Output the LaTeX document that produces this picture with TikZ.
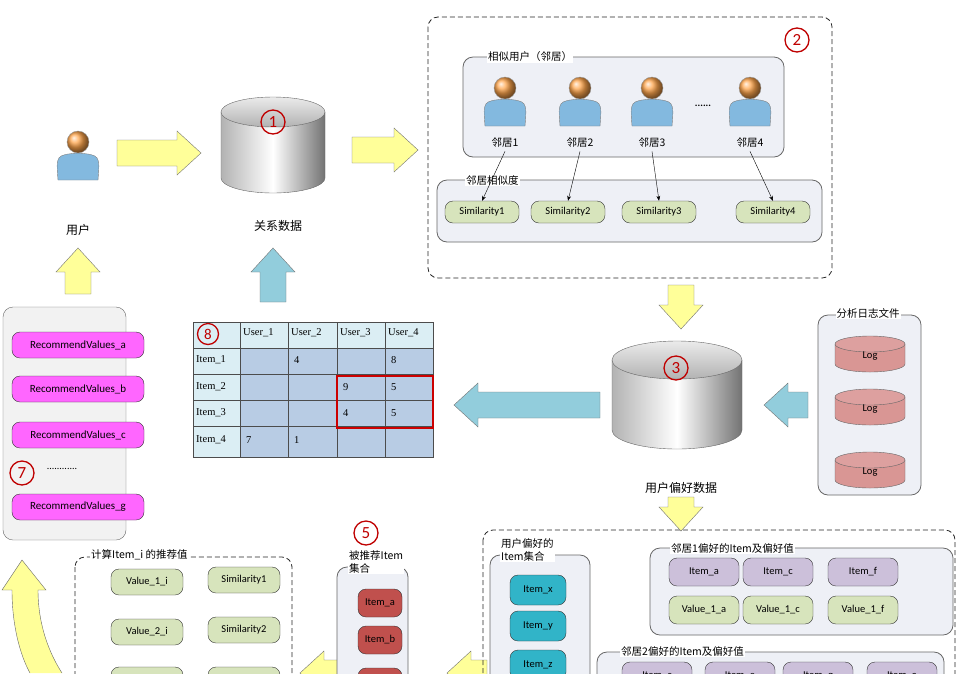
\documentclass[tikz,border=0pt]{standalone}
\usepackage{fontspec}
\setmainfont{Carlito}
\newfontfamily\cjk{Noto Sans CJK SC}
\newfontfamily\tms{Liberation Serif}
\usetikzlibrary{shapes.geometric,arrows.meta}
\definecolor{yel}{HTML}{FFFF99}
\definecolor{blu}{HTML}{92CDDC}
\definecolor{grn}{HTML}{D7E4BC}
\definecolor{pur}{HTML}{CCC0DA}
\definecolor{mag}{HTML}{FF66FF}
\definecolor{redp}{HTML}{C0504D}
\definecolor{logc}{HTML}{D99694}
\definecolor{teal}{HTML}{31B4C8}
\definecolor{cellb}{HTML}{B8CCE4}
\definecolor{cellh}{HTML}{DBEEF4}
\definecolor{panel}{HTML}{EEF0F6}
\tikzset{
 pill/.style={draw=black!80,rounded corners=8,minimum height=22,inner sep=2,font=\fontsize{10.5}{12}\selectfont},
 gp/.style={pill,fill=grn,minimum width=74},
 pp/.style={pill,fill=pur,minimum width=70},
 panelbox/.style={draw=black!60,thick,rounded corners=10,fill=panel},
 dbox/.style={draw=black!85,line width=0.8,dash pattern=on 5pt off 3pt,rounded corners=10},
 ttl/.style={fill=white,inner sep=1,font=\cjk\fontsize{10.5}{13}\selectfont},
 blkarrow/.style={draw=black!55},
 num/.style={circle,draw=red!75!black,text=red!75!black,inner sep=0.5,minimum size=24,line width=1.3,font=\fontsize{17}{17}\selectfont},
 cn/.style={font=\cjk\fontsize{10.5}{13}\selectfont}
}
% block arrow: #1 colour, #2 tail x, #3 tail y, #4 length, #5 angle (0 right, 90 up, -90 down)
\newcommand\blk[5]{\begin{scope}[shift={(#2,#3)},rotate=#5]
 \draw[blkarrow,fill=#1] (0,-13) -- (#4-24,-13) -- (#4-24,-22) -- (#4,0) -- (#4-24,22) -- (#4-24,13) -- (0,13) -- cycle;
 \end{scope}}
% grey cylinder: #1 cx, #2 top y, #3 half width, #4 ry, #5 body height
\newcommand\cyl[5]{%
 \shade[left color=black!30,right color=black!55,middle color=white,draw=black!60]
   (#1-#3,#2) -- (#1-#3,#2+#5) arc[start angle=180,end angle=0,x radius=#3,y radius=#4] -- (#1+#3,#2) -- cycle;
 \shade[top color=black!8,bottom color=black!30,draw=black!60] (#1,#2) ellipse[x radius=#3,y radius=#4];}
\newcommand\logcyl[2]{%
 \draw[fill=logc,draw=black!60] (#1-35,#2) -- (#1-35,#2+20) arc[start angle=180,end angle=0,x radius=35,y radius=8] -- (#1+35,#2) -- cycle;
 \draw[fill=logc!90!white,draw=black!60] (#1,#2) ellipse[x radius=35,y radius=8];}
\newcommand\person[2]{%
 \fill[blu!90!blue,draw=black!50] (#1-20,#2+30) .. controls (#1-22,#2+5) .. (#1,#2+3) .. controls (#1+22,#2+5) .. (#1+20,#2+30) -- cycle;
 \shade[ball color=orange!70,draw=black!40] (#1,#2-8) circle (11);}
\begin{document}
\begin{tikzpicture}[x=1pt,y=-1pt]
\useasboundingbox (0,0) rectangle (957,673);
\clip (0,0) rectangle (957,673);
% user
\person{78}{150}
\node[cn,font=\cjk\fontsize{12}{14}\selectfont] (user) at (78,230) {用户};
\blk{yel}{117}{153}{84}{0}
% db1
\cyl{273}{112}{52}{15}{66}
\node[num] (n1) at (273,122) {1};
\node[cn,font=\cjk\fontsize{12}{14}\selectfont] (rel) at (278,226) {关系数据};
\blk{yel}{352}{150}{66}{0}
% box 2
\draw[dbox] (428,17) rectangle (832,278);
\node[num] (n2) at (797,40) {2};
\draw[panelbox] (463,57) rectangle (784,157);
\node[ttl,anchor=west] (t1) at (487,57) {相似用户（邻居）};
\foreach \x/\i in {505/1,580/2,652/3,750/4}{
 \person{\x}{96}
 \node[cn] (nb\i) at (\x,143) {邻居\i};}
\node (dots) at (703,106) {\textbf{......}};
\draw[panelbox] (437,180) rectangle (822,242);
\node[ttl,anchor=west] (t2) at (465,180) {邻居相似度};
\node[gp] (s1) at (482,212) {Similarity1};
\node[gp] (s2) at (568,212) {Similarity2};
\node[gp] (s3) at (659,212) {Similarity3};
\node[gp] (s4) at (773,212) {Similarity4};
\foreach \i in {1,2,3,4}{\draw[-{Stealth[length=5]},thin] (nb\i.south) -- (s\i.north);}
% down arrow
\blk{yel}{681}{285}{44}{-90}
% db3
\cyl{677}{360}{65}{19}{70}
\node[num] (n3) at (676,368) {3};
\node[cn,font=\cjk\fontsize{12}{14}\selectfont] (pref) at (681,488) {用户偏好数据};
% log box
\draw[panelbox] (818,315) rectangle (921,495);
\node[ttl] (t3) at (868,313) {分析日志文件};
\logcyl{870}{344}
\logcyl{870}{397}
\logcyl{870}{460}
\node[font=\fontsize{10.5}{12}\selectfont] (l1) at (870,356) {Log};
\node[font=\fontsize{10.5}{12}\selectfont] (l2) at (870,409) {Log};
\node[font=\fontsize{10.5}{12}\selectfont] (l3) at (870,472) {Log};
\blk{blu}{808}{405}{44}{180}
\blk{blu}{600}{405}{146}{180}
% table
\fill[cellb] (193,322) rectangle (433,457);
\fill[cellh] (193,322) rectangle (433,348);
\fill[cellh] (193,322) rectangle (240,457);
\draw[black!70] (193,322) rectangle (433,457);
\foreach \x in {240,288,337,385} \draw[black!70] (\x,322) -- (\x,457);
\foreach \y in {348,374,400,426} \draw[black!70] (193,\y) -- (433,\y);
\draw[red!80!black,line width=1.2] (337,376) rectangle (433,428);
\begin{scope}[every node/.style={anchor=west,font=\tms\fontsize{10.5}{12}\selectfont,inner sep=0}]
\node (h1) at (243,333) {User\_1};\node (h2) at (291,333) {User\_2};
\node (h3) at (340,333) {User\_3};\node (h4) at (388,333) {User\_4};
\node (r1) at (196,360) {Item\_1};\node (r2) at (196,387) {Item\_2};
\node (r3) at (196,413) {Item\_3};\node (r4) at (196,440) {Item\_4};
\node (c12) at (294,360) {4};\node (c14) at (391,360) {8};
\node (c23) at (343,387) {9};\node (c24) at (391,387) {5};
\node (c33) at (343,413) {4};\node (c34) at (391,413) {5};
\node (c41) at (246,440) {7};\node (c42) at (294,440) {1};
\end{scope}
\node[num,minimum size=21,font=\fontsize{15}{15}\selectfont] (n8) at (208,334) {8};
\blk{blu}{273}{302}{54}{90}
% recommend
\blk{yel}{78}{294}{46}{90}
\draw[draw=black!60,rounded corners=10,fill=black!5] (3,307) rectangle (126,540);
\begin{scope}[every node/.style={pill,fill=mag,minimum width=132,minimum height=26,font=\fontsize{11}{12}\selectfont}]
\node (rv1) at (78,345) {RecommendValues\_a};
\node (rv2) at (78,389) {RecommendValues\_b};
\node (rv3) at (78,435) {RecommendValues\_c};
\node (rv4) at (78,507) {RecommendValues\_g};
\end{scope}
\node[num] (n7) at (22,473) {7};
\node (dots2) at (62,469) {............};
% curved arrow
\draw[fill=yel,draw=black!60] (62,673) .. controls (44,645) and (38,615) .. (38,590) -- (46,590) -- (22,560) -- (2,590) -- (12,590) .. controls (12,625) and (20,655) .. (30,673);
% box 6
\draw[dbox] (75,557) rectangle (292,700);
\node[ttl,anchor=west] (t6) at (90,555) {计算Item\_i 的推荐值};
\node[gp,minimum width=72,minimum height=26] (v1) at (147,582) {Value\_1\_i};
\node[gp,minimum width=72,minimum height=26] (sm1) at (244,580) {Similarity1};
\node[gp,minimum width=72,minimum height=26] (v2) at (147,632) {Value\_2\_i};
\node[gp,minimum width=72,minimum height=26] (sm2) at (244,630) {Similarity2};
\node[gp,minimum width=72,minimum height=26] (v3) at (147,680) {};
\node[gp,minimum width=72,minimum height=26] (sm3) at (244,680) {};
\blk{yel}{340}{673}{40}{180}
\blk{yel}{487}{673}{40}{180}
% box 5
\node[num] (n5) at (366,533) {5};
\draw[panelbox] (337,567) rectangle (408,700);
\node[ttl,align=left,anchor=north west] (t5) at (348,549) {被推荐Item\\集合};
\begin{scope}[every node/.style={pill,fill=redp,minimum width=44,minimum height=28}]
\node (ia) at (380,603) {Item\_a};
\node (ib) at (380,640) {Item\_b};
\node (ic) at (380,682) {};
\end{scope}
% box 4
\draw[dbox] (483,530) rectangle (955,700);
\draw[panelbox] (490,555) rectangle (590,700);
\node[ttl,align=left,anchor=north west] (t4) at (500,537) {用户偏好的\\Item集合};
\begin{scope}[every node/.style={pill,fill=teal,minimum width=56,minimum height=30}]
\node (ix) at (538,590) {Item\_x};
\node (iy) at (538,626) {Item\_y};
\node (iz) at (538,665) {Item\_z};
\end{scope}
\draw[panelbox] (650,548) rectangle (953,635);
\node[ttl,anchor=west] (t7) at (670,548) {邻居1偏好的Item及偏好值};
\node[pp,minimum height=28] (p1) at (704,572) {Item\_a};
\node[pp,minimum height=28] (p2) at (778,572) {Item\_c};
\node[pp,minimum height=28] (p3) at (863,572) {Item\_f};
\node[gp,minimum width=70,minimum height=28] (g1) at (704,610) {Value\_1\_a};
\node[gp,minimum width=70,minimum height=28] (g2) at (778,610) {Value\_1\_c};
\node[gp,minimum width=70,minimum height=28] (g3) at (863,610) {Value\_1\_f};
\draw[panelbox] (597,652) rectangle (944,700);
\node[ttl,anchor=west] (t8) at (620,651) {邻居2偏好的Item及偏好值};
\node[pp,minimum height=28] (q1) at (657,676) {Item\_c};
\node[pp,minimum height=28] (q2) at (740,676) {Item\_e};
\node[pp,minimum height=28] (q3) at (818,676) {Item\_g};
\node[pp,minimum height=28] (q4) at (902,676) {Item\_a};
\blk{yel}{681}{497}{34}{-90}
\end{tikzpicture}
\end{document}
